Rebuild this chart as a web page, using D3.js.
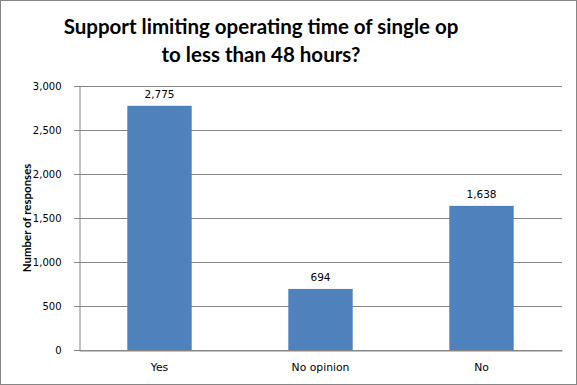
<!DOCTYPE html>
<html>
<head>
<meta charset="utf-8">
<script src="https://cdn.jsdelivr.net/npm/d3@7"></script>
<style>
  body { margin: 0; background: #fff; }
  .tick text { font-family: "DejaVu Sans", Verdana, sans-serif; font-size: 10px; fill: #000; }
  .x-axis .tick text { font-size: 10.8px; }
</style>
</head>
<body>
<div class="chart"></div>
<script>
var categories = ["Yes", "No opinion", "No"];
var responses = [2775, 694, 1638];
var yTicks = [0, 500, 1000, 1500, 2000, 2500, 3000];
var titleLines = ["Support limiting operating time of single op", "to less than 48 hours?"];

var svgWidth = 577;
var svgHeight = 385;
var margin = { top: 86, right: 15, bottom: 35, left: 79 };
var width = svgWidth - margin.left - margin.right;
var height = svgHeight - margin.top - margin.bottom;

var svg = d3.select(".chart")
  .append("svg")
  .attr("width", svgWidth)
  .attr("height", svgHeight);

// chart border
svg.append("rect")
  .attr("x", 0.5).attr("y", 0.5)
  .attr("width", svgWidth - 1).attr("height", svgHeight - 1)
  .attr("fill", "#fff")
  .attr("stroke", "#868686");

// title
svg.selectAll(".title")
  .data(titleLines)
  .enter().append("text")
  .attr("class", "title")
  .attr("x", 261)
  .attr("y", function(d, i) { return 34 + i * 28; })
  .attr("text-anchor", "middle")
  .style("font-family", "Lato, 'Open Sans', sans-serif")
  .style("font-weight", "bold")
  .style("font-size", "20.5px")
  .text(function(d) { return d; });

var chart = svg.append("g")
  .attr("transform", "translate(" + margin.left + "," + margin.top + ")");

var xScale = d3.scaleBand()
  .domain(categories)
  .range([0, width])
  .paddingInner(0.6)
  .paddingOuter(0.3);

var yScale = d3.scaleLinear()
  .domain([0, 3000])
  .range([height, 0]);

// gridlines
chart.selectAll(".grid")
  .data(yTicks)
  .enter().append("line")
  .attr("x1", -5).attr("x2", width)
  .attr("y1", function(d) { return Math.round(yScale(d)) + 0.5; })
  .attr("y2", function(d) { return Math.round(yScale(d)) + 0.5; })
  .attr("stroke", "#868686");

var leftAxis = d3.axisLeft(yScale)
  .tickValues(yTicks)
  .tickSize(0)
  .tickPadding(18)
  .tickFormat(d3.format(","));

chart.append("g")
  .attr("transform", "translate(0.5,0)")
  .call(leftAxis)
  .call(function(g) { g.select(".domain").attr("stroke", "#868686"); });

chart.selectAll(".bar")
  .data(responses)
  .enter().append("rect")
  .attr("class", "bar")
  .attr("x", function(d, i) { return xScale(categories[i]); })
  .attr("width", xScale.bandwidth())
  .attr("y", function(d) { return yScale(d); })
  .attr("height", function(d) { return height - yScale(d); })
  .attr("fill", "#4f81bd");

chart.selectAll(".value")
  .data(responses)
  .enter().append("text")
  .attr("class", "value")
  .attr("x", function(d, i) { return xScale(categories[i]) + xScale.bandwidth() / 2; })
  .attr("y", function(d) { return yScale(d) - 8; })
  .attr("text-anchor", "middle")
  .style("font-family", "'DejaVu Sans', Verdana, sans-serif")
  .style("font-size", "10.5px")
  .text(function(d) { return d3.format(",")(d); });

var bottomAxis = d3.axisBottom(xScale)
  .tickSize(0)
  .tickPadding(13);

chart.append("g")
  .attr("class", "x-axis")
  .attr("transform", "translate(0," + (height + 0.5) + ")")
  .call(bottomAxis)
  .call(function(g) { g.select(".domain").attr("stroke", "#868686"); });

// y-axis title
chart.append("text")
  .attr("transform", "rotate(-90)")
  .attr("x", -(218 - margin.top))
  .attr("y", 27 - margin.left + 4)
  .attr("text-anchor", "middle")
  .style("font-family", "Lato, 'Open Sans', sans-serif")
  .style("font-weight", "bold")
  .style("font-size", "11.5px")
  .text("Number of responses");
</script>
</body>
</html>
